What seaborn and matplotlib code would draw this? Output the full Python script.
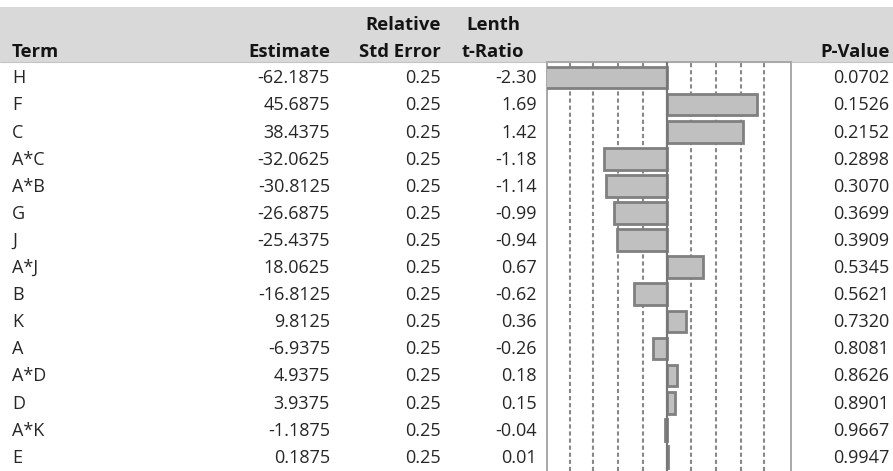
import pandas as pd
import seaborn as sns
import matplotlib.pyplot as plt
from matplotlib.patches import Rectangle

# Table data
terms = ['H', 'F', 'C', 'A*C', 'A*B', 'G', 'J', 'A*J', 'B', 'K', 'A', 'A*D', 'D', 'A*K', 'E']
estimates = [-62.1875, 45.6875, 38.4375, -32.0625, -30.8125, -26.6875, -25.4375, 18.0625,
             -16.8125, 9.8125, -6.9375, 4.9375, 3.9375, -1.1875, 0.1875]
rel_std_err = [0.25] * 15
t_ratios = [-2.30, 1.69, 1.42, -1.18, -1.14, -0.99, -0.94, 0.67, -0.62, 0.36, -0.26, 0.18, 0.15, -0.04, 0.01]
p_values = [0.0702, 0.1526, 0.2152, 0.2898, 0.3070, 0.3699, 0.3909, 0.5345, 0.5621, 0.7320,
            0.8081, 0.8626, 0.8901, 0.9667, 0.9947]
ref_lines = [-1.82, -1.38, -0.92, -0.45, 0.45, 0.92, 1.38, 1.82]

df = pd.DataFrame({'term': terms, 'estimate': estimates, 'se': rel_std_err,
                   't': t_ratios, 'p': p_values})

sns.set_style('white')
plt.rcParams['font.family'] = ['Open Sans', 'DejaVu Sans']

W, H = 893, 471
fig = plt.figure(figsize=(W / 100, H / 100), dpi=100)

# pixel-coordinate canvas for the table text
bg = fig.add_axes([0, 0, 1, 1])
bg.set_xlim(0, W)
bg.set_ylim(H, 0)
bg.axis('off')

# header band
bg.add_patch(Rectangle((0, 7), W, 55, facecolor='#d9d9d9', edgecolor='none'))
bg.plot([0, W], [62, 62], color='#c4c4c4', lw=0.8)

hdr = dict(fontsize=13.3, fontweight='bold', color='#141414', va='baseline')
bg.text(12, 57, 'Term', ha='left', **hdr)
bg.text(330, 57, 'Estimate', ha='right', **hdr)
bg.text(441, 30, 'Relative', ha='right', **hdr)
bg.text(441, 57, 'Std Error', ha='right', **hdr)
bg.text(493, 30, 'Lenth', ha='center', **hdr)
bg.text(493, 57, 't-Ratio', ha='center', **hdr)
bg.text(890, 57, 'P-Value', ha='right', **hdr)

row0, step = 83.3, 27.1
body = dict(fontsize=13, color='#262626', va='baseline')
for i, r in df.iterrows():
    y = row0 + i * step
    bg.text(12, y, r['term'], ha='left', **body)
    bg.text(330, y, f"{r['estimate']:.4f}", ha='right', **body)
    bg.text(441, y, f"{r['se']:.2f}", ha='right', **body)
    bg.text(537, y, f"{r['t']:.2f}", ha='right', **body)
    bg.text(889, y, f"{r['p']:.4f}", ha='right', **body)

# bar panel
x0, x1, top = 547, 791, 62
ax = fig.add_axes([x0 / W, 0, (x1 - x0) / W, (H - top) / H])
sns.barplot(data=df, x='t', y='term', order=terms, orient='h', color='#c0c0c0',
            saturation=1, edgecolor='#808080', linewidth=2, width=0.8, ax=ax, zorder=3)
ax.set_xlim(-2.243, 2.318)
rows_visible = (H - top) / step
ytop = -(row0 - 5.8 - top) / step
ax.set_ylim(ytop + rows_visible, ytop)
for v in ref_lines:
    ax.axvline(v, color='#888888', lw=1.5, ls=(0, (2, 1.4)), zorder=1)
ax.axvline(0, color='#777777', lw=1.6, zorder=4)
ax.set_xticks([])
ax.set_yticks([])
ax.set_xlabel('')
ax.set_ylabel('')
for s in ['left', 'right', 'top']:
    ax.spines[s].set_color('#a8a8a8')
    ax.spines[s].set_linewidth(1.4)
ax.spines['bottom'].set_visible(False)
ax.patch.set_alpha(0)

plt.savefig('out.png', dpi=100)
plt.close()
